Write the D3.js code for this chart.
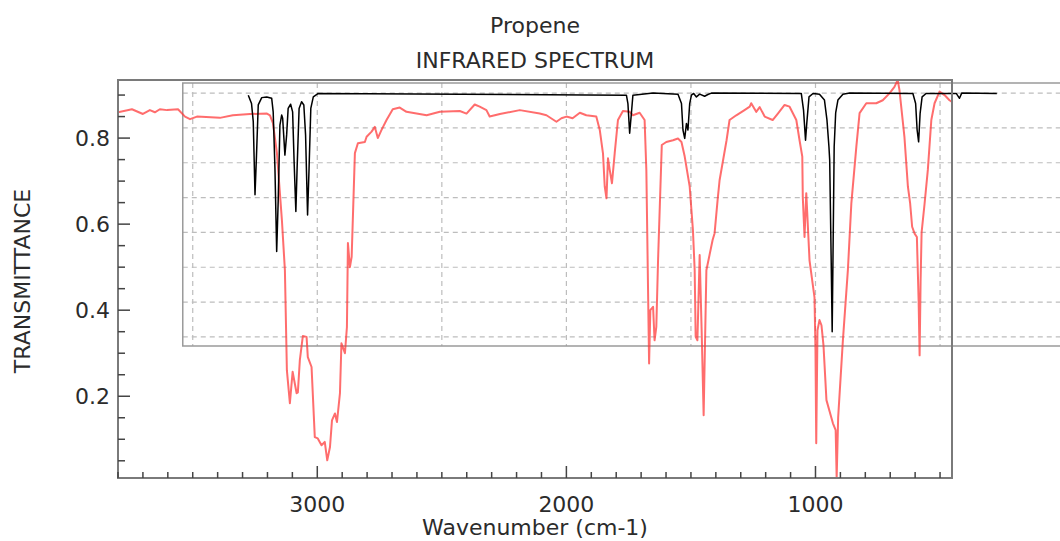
<!DOCTYPE html>
<html>
<head>
<meta charset="utf-8">
<script src="https://cdn.jsdelivr.net/npm/d3@7"></script>
<style>
  html, body { margin: 0; padding: 0; background: #fff; }
  svg { display: block; font-family: "DejaVu Sans", sans-serif; }
</style>
</head>
<body>
<svg id="chart" width="1060" height="541"></svg>
<script>
// Measured propene spectrum (wavenumber in cm-1, transmittance)
const measuredWavenumber = [
  3800, 3744, 3700, 3672, 3652, 3632, 3603, 3559, 3531, 3511, 3483, 3391, 3339, 3270, 3202, 3190,
  3178, 3162, 3142, 3130, 3122, 3110, 3099, 3083, 3078, 3070, 3058, 3043, 3038, 3023, 3010, 2998,
  2983, 2970, 2960, 2949, 2941, 2929, 2921, 2909, 2903, 2889, 2881, 2877, 2869, 2862, 2849, 2837,
  2809, 2802, 2782, 2769, 2757, 2742, 2722, 2697, 2669, 2642, 2561, 2508, 2428, 2401, 2368, 2348,
  2321, 2308, 2267, 2187, 2107, 2080, 2040, 2020, 2000, 1975, 1946, 1920, 1880, 1866, 1853, 1846,
  1839, 1833, 1826, 1817, 1806, 1793, 1773, 1746, 1733, 1706, 1686, 1679, 1668, 1663, 1652, 1646,
  1639, 1632, 1617, 1599, 1572, 1552, 1538, 1525, 1505, 1492, 1485, 1481, 1474, 1465, 1457, 1449,
  1438, 1413, 1405, 1393, 1385, 1357, 1345, 1318, 1285, 1264, 1258, 1238, 1224, 1204, 1172, 1151,
  1124, 1104, 1077, 1064, 1053, 1051, 1044, 1037, 1024, 1004, 1000, 997, 992, 984, 976, 968,
  956, 930, 919, 915, 909, 890, 870, 856, 836, 823, 796, 756, 730, 703, 683, 670,
  663, 643, 629, 620, 612, 602, 593, 586, 582, 578, 574, 562, 549, 535, 522, 502,
  482, 462, 452
];
const measuredTransmittance = [
  0.860, 0.867, 0.856, 0.865, 0.860, 0.867, 0.865, 0.867, 0.850, 0.844, 0.850, 0.847, 0.853, 0.856, 0.857, 0.853,
  0.835, 0.765, 0.609, 0.493, 0.260, 0.184, 0.257, 0.207, 0.209, 0.284, 0.340, 0.338, 0.291, 0.268, 0.105, 0.102,
  0.086, 0.094, 0.051, 0.082, 0.144, 0.160, 0.140, 0.207, 0.323, 0.300, 0.361, 0.556, 0.500, 0.524, 0.765, 0.788,
  0.791, 0.803, 0.815, 0.826, 0.800, 0.819, 0.842, 0.867, 0.871, 0.861, 0.853, 0.861, 0.863, 0.857, 0.878, 0.873,
  0.865, 0.850, 0.856, 0.865, 0.857, 0.853, 0.838, 0.846, 0.850, 0.846, 0.859, 0.853, 0.850, 0.819, 0.764, 0.687,
  0.660, 0.753, 0.726, 0.695, 0.765, 0.842, 0.863, 0.861, 0.853, 0.859, 0.842, 0.726, 0.276, 0.400, 0.408, 0.330,
  0.361, 0.516, 0.784, 0.791, 0.795, 0.799, 0.791, 0.757, 0.687, 0.586, 0.493, 0.338, 0.330, 0.528, 0.353, 0.156,
  0.493, 0.563, 0.579, 0.656, 0.702, 0.795, 0.842, 0.853, 0.865, 0.873, 0.881, 0.861, 0.872, 0.850, 0.842, 0.857,
  0.877, 0.873, 0.842, 0.795, 0.757, 0.663, 0.570, 0.672, 0.516, 0.430, 0.307, 0.091, 0.353, 0.377, 0.365, 0.319,
  0.191, 0.137, 0.121, 0.010, 0.151, 0.330, 0.493, 0.649, 0.780, 0.858, 0.881, 0.881, 0.888, 0.904, 0.919, 0.935,
  0.912, 0.803, 0.687, 0.648, 0.594, 0.578, 0.570, 0.423, 0.295, 0.470, 0.581, 0.648, 0.726, 0.842, 0.881, 0.908,
  0.900, 0.888, 0.884
];

// Calculated spectrum shown in the inset panel
const calculatedWavenumber = [
  3277, 3264, 3257, 3250, 3244, 3237, 3223, 3203, 3183, 3177, 3170, 3163, 3157, 3150, 3143, 3139,
  3134, 3130, 3123, 3117, 3107, 3099, 3093, 3086, 3081, 3073, 3063, 3054, 3047, 3039, 3033, 3026,
  3016, 2996, 1759, 1753, 1746, 1739, 1733, 1652, 1552, 1538, 1532, 1525, 1518, 1512, 1505, 1498,
  1489, 1478, 1465, 1445, 1432, 1418, 1057, 1048, 1040, 1035, 1026, 1010, 984, 964, 954, 946,
  943, 937, 933, 929, 925, 919, 910, 890, 863, 609, 598, 592, 586, 580, 572, 556,
  435, 422, 413, 272
];
const calculatedTransmittance = [
  0.994, 0.970, 0.918, 0.708, 0.822, 0.966, 0.987, 0.989, 0.985, 0.946, 0.785, 0.545, 0.689, 0.908, 0.937, 0.928,
  0.870, 0.822, 0.880, 0.956, 0.968, 0.946, 0.803, 0.660, 0.784, 0.956, 0.975, 0.966, 0.880, 0.650, 0.784, 0.956,
  0.989, 0.999, 0.994, 0.970, 0.885, 0.942, 0.994, 1.000, 0.997, 0.970, 0.894, 0.870, 0.913, 0.894, 0.970, 0.994,
  0.999, 0.989, 0.997, 0.991, 0.996, 1.000, 0.999, 0.951, 0.865, 0.913, 0.989, 0.999, 0.997, 0.980, 0.923, 0.846,
  0.808, 0.520, 0.315, 0.579, 0.846, 0.943, 0.980, 0.997, 1.000, 0.999, 0.970, 0.894, 0.860, 0.942, 0.989, 0.999,
  0.999, 0.985, 1.000, 0.999
];

// Axis ticks
const xMajorTicks = [3000, 2000, 1000];
const yMajorTicks = [0.2, 0.4, 0.6, 0.8];
const insetGridWavenumbers = [3500, 3000, 2500, 2000, 1500, 1000, 500];
const insetGridLevels = [0.3, 0.4, 0.5, 0.6, 0.7, 0.8, 0.9, 1.0];

const titleLines = ["Propene", "INFRARED SPECTRUM"];
const xTitle = "Wavenumber (cm-1)";
const yTitle = "TRANSMITTANCE";

// Layout
const frame = { left: 118, top: 80, right: 952, bottom: 478 };
const inset = { leftWavenumber: 3540, top: 83, bottom: 346, right: 1075 };
const textColor = "#2b2b2b";
const fontSize = 22;

const measured = measuredWavenumber.map((w, i) => ({ w, t: measuredTransmittance[i] }));
const calculated = calculatedWavenumber.map((w, i) => ({ w, t: calculatedTransmittance[i] }));

const x = d3.scaleLinear()
  .domain([d3.max(measuredWavenumber), d3.min(measuredWavenumber)])
  .range([frame.left, frame.right]);
const y = d3.scaleLinear()
  .domain(d3.extent(measuredTransmittance))
  .range([frame.bottom, frame.top]);
const yInset = d3.scaleLinear()
  .domain([0.274, 1.029])
  .range([inset.bottom, inset.top]);

const svg = d3.select("#chart");

// Inset panel: grid and border
const insetLeft = x(inset.leftWavenumber);
const grid = svg.append("g")
  .attr("stroke", "#bdbdbd").attr("stroke-width", 1.2).attr("stroke-dasharray", "5,4");
grid.selectAll("line.h").data(insetGridLevels).join("line")
  .attr("class", "h")
  .attr("x1", insetLeft).attr("x2", inset.right)
  .attr("y1", d => yInset(d)).attr("y2", d => yInset(d));
grid.selectAll("line.v").data(insetGridWavenumbers).join("line")
  .attr("class", "v")
  .attr("x1", d => x(d)).attr("x2", d => x(d))
  .attr("y1", inset.top).attr("y2", inset.bottom);
svg.append("rect")
  .attr("x", insetLeft).attr("y", inset.top)
  .attr("width", inset.right - insetLeft).attr("height", inset.bottom - inset.top)
  .attr("fill", "none").attr("stroke", "#9a9a9a").attr("stroke-width", 1.5);

// Measured trace
svg.append("defs").append("clipPath").attr("id", "frame-clip")
  .append("rect")
  .attr("x", frame.left).attr("y", frame.top - 2)
  .attr("width", frame.right - frame.left).attr("height", frame.bottom - frame.top + 2);

const measuredLine = d3.line().x(d => x(d.w)).y(d => y(d.t));
svg.append("path")
  .datum(measured)
  .attr("clip-path", "url(#frame-clip)")
  .attr("fill", "none")
  .attr("stroke", "#ff3434")
  .attr("stroke-opacity", 0.72)
  .attr("stroke-width", 2)
  .attr("stroke-linejoin", "round")
  .attr("d", measuredLine);

// Calculated trace
const calculatedLine = d3.line().x(d => x(d.w)).y(d => yInset(d.t));
svg.append("path")
  .datum(calculated)
  .attr("fill", "none")
  .attr("stroke", "#000")
  .attr("stroke-width", 1.5)
  .attr("stroke-linejoin", "round")
  .attr("d", calculatedLine);

// Main frame
svg.append("rect")
  .attr("x", frame.left).attr("y", frame.top)
  .attr("width", frame.right - frame.left).attr("height", frame.bottom - frame.top)
  .attr("fill", "none").attr("stroke", "#7a7a7a").attr("stroke-width", 2);

// Inward ticks
const xMinor = d3.range(3800, 449, -100).filter(d => !xMajorTicks.includes(d));
const yMinor = d3.range(0.05, 0.93, 0.05).map(d => +d.toFixed(2)).filter(d => !yMajorTicks.includes(d));
const ticks = svg.append("g").attr("stroke", "#444").attr("stroke-width", 1.5);
ticks.selectAll("line.xm").data(xMinor).join("line").attr("class", "xm")
  .attr("x1", d => x(d)).attr("x2", d => x(d))
  .attr("y1", frame.bottom).attr("y2", frame.bottom - 6);
ticks.selectAll("line.xM").data(xMajorTicks).join("line").attr("class", "xM")
  .attr("x1", d => x(d)).attr("x2", d => x(d))
  .attr("y1", frame.bottom).attr("y2", frame.bottom - 12);
ticks.selectAll("line.ym").data(yMinor).join("line").attr("class", "ym")
  .attr("x1", frame.left).attr("x2", frame.left + 7)
  .attr("y1", d => y(d)).attr("y2", d => y(d));
ticks.selectAll("line.yM").data(yMajorTicks).join("line").attr("class", "yM")
  .attr("x1", frame.left).attr("x2", frame.left + 12)
  .attr("y1", d => y(d)).attr("y2", d => y(d));

// Tick labels
svg.append("g").selectAll("text").data(xMajorTicks).join("text")
  .attr("x", d => x(d)).attr("y", frame.bottom + 34)
  .attr("text-anchor", "middle").attr("font-size", fontSize).attr("fill", textColor)
  .text(d => d);
svg.append("g").selectAll("text").data(yMajorTicks).join("text")
  .attr("x", frame.left - 8).attr("y", d => y(d) + 8)
  .attr("text-anchor", "end").attr("font-size", fontSize).attr("fill", textColor)
  .text(d => d.toFixed(1));

// Titles
const cx = (frame.left + frame.right) / 2;
svg.selectAll("text.title").data(titleLines).join("text")
  .attr("class", "title")
  .attr("x", cx).attr("y", (d, i) => 33 + i * 35)
  .attr("text-anchor", "middle").attr("font-size", fontSize).attr("fill", textColor)
  .text(d => d);
svg.append("text")
  .attr("x", cx).attr("y", 535)
  .attr("text-anchor", "middle").attr("font-size", fontSize).attr("fill", textColor)
  .text(xTitle);
svg.append("text")
  .attr("transform", `translate(30, ${(frame.top + frame.bottom) / 2 + 2}) rotate(-90)`)
  .attr("text-anchor", "middle").attr("font-size", fontSize).attr("fill", textColor)
  .text(yTitle);
</script>
</body>
</html>
